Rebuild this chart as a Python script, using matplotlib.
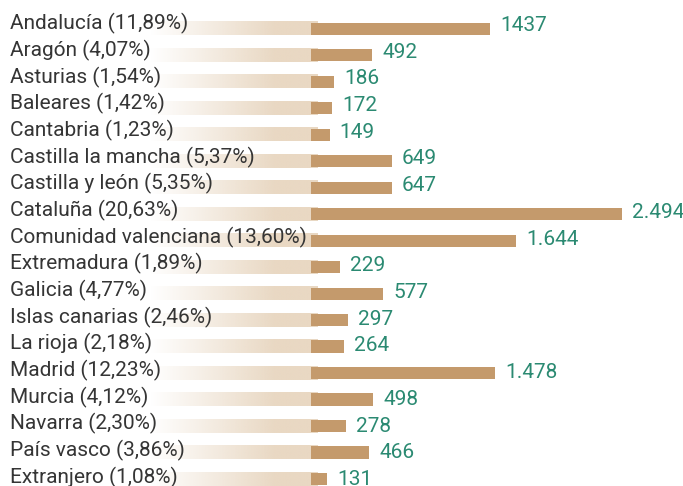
import numpy as np
import matplotlib
matplotlib.use("Agg")
from matplotlib import pyplot as plt
from matplotlib.colors import to_rgb

regions = ["Andalucía", "Aragón", "Asturias", "Baleares", "Cantabria",
           "Castilla la mancha", "Castilla y león", "Cataluña",
           "Comunidad valenciana", "Extremadura", "Galicia", "Islas canarias",
           "La rioja", "Madrid", "Murcia", "Navarra", "País vasco", "Extranjero"]
shares = ["11,89%", "4,07%", "1,54%", "1,42%", "1,23%", "5,37%", "5,35%",
          "20,63%", "13,60%", "1,89%", "4,77%", "2,46%", "2,18%", "12,23%",
          "4,12%", "2,30%", "3,86%", "1,08%"]
values = [1437, 492, 186, 172, 149, 649, 647, 2494, 1644, 229, 577, 297,
          264, 1478, 498, 278, 466, 131]
value_labels = ["1437", "492", "186", "172", "149", "649", "647", "2.494",
                "1.644", "229", "577", "297", "264", "1.478", "498", "278",
                "466", "131"]

brown = "#c49a6c"
light = "#e9d8c3"
green = "#2b8a72"
grey = "#353535"

W, H = 683, 486
fig = plt.figure(figsize=(W / 100, H / 100), dpi=100)
ax = fig.add_axes([0, 0, 1, 1])

# pixel -> data helpers (0 sits at x=311px, 2494 at 622px)
px_per_unit = (622 - 311) / 2494
def xd(px):
    return (px - 311) / px_per_unit

row_px = 26.48
n = len(regions)
ax.set_xlim(xd(0), xd(W))
ax.set_ylim(n - 1 + (H - 479) / row_px, -(28.8 / row_px))
ax.axis("off")

# faded background strips behind the labels
grad = np.zeros((1, 256, 4))
grad[0, :, :3] = to_rgb(light)
ramp = np.linspace(0, 1, 256)
grad[0, :, 3] = np.clip(ramp / 0.75, 0, 1)
for i in range(n):
    ax.imshow(grad, extent=(xd(150), xd(318), i + 0.25, i - 0.25),
              aspect="auto", interpolation="bilinear", zorder=1)

ax.barh(range(n), values, height=0.46, color=brown, zorder=2)

gap = xd(321) - xd(311)
for i in range(n):
    # text baselines drift slightly lower than the bars going down
    lab_off = (1 + 3 * i / (n - 1)) / row_px
    val_off = (2 + 4 * i / (n - 1)) / row_px
    ax.text(xd(10), i + lab_off, f"{regions[i]} ({shares[i]})", ha="left",
            va="baseline", fontsize=15, color=grey, family="Roboto",
            zorder=3)
    ax.text(values[i] + gap, i + val_off, value_labels[i],
            ha="left", va="baseline", fontsize=15, color=green,
            family="Roboto", zorder=3)

fig.savefig("out.png", dpi=100)
